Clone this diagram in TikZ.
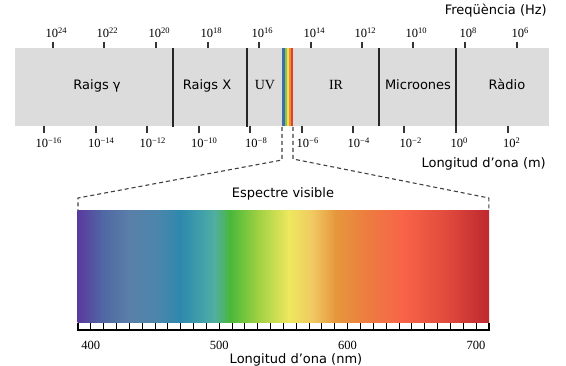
\documentclass[tikz,border=0pt]{standalone}
\usepackage{fontspec}
\setmainfont{Liberation Serif}
\newfontfamily\sansfont{DejaVu Sans}

\definecolor{bandgrey}{HTML}{DCDCDC}
\definecolor{rbblue}{HTML}{3D6FA5}
\definecolor{rbgreen}{HTML}{8CC050}
\definecolor{rbyellow}{HTML}{F0E050}
\definecolor{rborange}{HTML}{F09030}
\definecolor{rbred}{HTML}{E04030}
\definecolor{sp0}{HTML}{5A3A9E}
\definecolor{sp1}{HTML}{5068A4}
\definecolor{sp2}{HTML}{5A80A8}
\definecolor{sp3}{HTML}{4C86AB}
\definecolor{sp4}{HTML}{2F88AD}
\definecolor{sp5}{HTML}{42A2AA}
\definecolor{sp6}{HTML}{52AEA0}
\definecolor{sp7}{HTML}{48B83A}
\definecolor{sp8}{HTML}{9CD042}
\definecolor{sp9}{HTML}{EEE85E}
\definecolor{sp10}{HTML}{F0C862}
\definecolor{sp11}{HTML}{E6983C}
\definecolor{sp12}{HTML}{EC7E40}
\definecolor{sp13}{HTML}{F86448}
\definecolor{sp14}{HTML}{E04A3C}
\definecolor{sp15}{HTML}{BE2830}

\newcommand{\tenpow}[1]{10\raisebox{4.8pt}{\fontsize{8.5}{9}\selectfont #1}}

\tikzset{
	band/.style={font=\sansfont\fontsize{13}{15}\selectfont, anchor=base, inner sep=0pt},
	bandserif/.style={font=\fontsize{14}{16}\selectfont, anchor=base, inner sep=0pt},
	power/.style={font=\fontsize{12.5}{14}\selectfont, anchor=base, inner sep=0pt},
	caption/.style={font=\sansfont\fontsize{13}{15}\selectfont, inner sep=0pt},
	divider/.style={draw=black!85, line width=1.4pt},
	zoomline/.style={draw=black!75, line width=1.1pt, dash pattern=on 4pt off 3pt},
}

\begin{document}
\begin{tikzpicture}[x=1pt,y=-1pt]%[overlay]
		\useasboundingbox (0,0) rectangle (566,366);

		\coordinate (barnw) at (15,48);
		\coordinate (barse) at (549,126);
		\coordinate (specnw) at (78,211);
		\coordinate (specse) at (488.9,323);

		% the band
		\fill[bandgrey] (barnw) rectangle (barse);
		\foreach \xa/\xb/\c in {282/285/rbblue,285/287.2/rbgreen,287.2/289/rbyellow,289/291/rborange,291/293.3/rbred}
			\fill[\c] (\xa,48) rectangle (\xb,126);
		\draw[divider] (173,48) -- (173,127);
		\draw[divider] (247,48) -- (247,127);
		\draw[divider] (379,48) -- (379,126);
		\draw[divider] (456,48) -- (456,133);

		\node[band] (gamma) at (97,90) {Raigs γ};
		\node[band] (xray) at (207,90) {Raigs X};
		\node[bandserif] (uv) at (265,90) {UV};
		\node[bandserif] (ir) at (336,90) {IR};
		\node[band] (micro) at (418,90) {Microones};
		\node[band] (radio) at (507,90) {Ràdio};

		% frequency
		\foreach \x/\e in {53/24,104/22,156/20,208/18,259/16,311/14,362/12,413/10,465/8,517/6}{
			\draw[black!80, line width=1.1pt] (\x,42) -- (\x,48);
			\node[power] (f\e) at (\x+3,38) {\tenpow{\e}};
		}
		\node[caption, anchor=base east] (freq) at (547,15) {Freqüència (Hz)};

		% wavelength
		\foreach \x/\lx/\e [count=\i] in {44/48.5/−16,96/101/−14,147/152.5/−12,199/204/−10,250/256/−8,302/307.5/−6,353/358.5/−4,404/410.5/−2,456/459/0,508/511.5/2}{
			\draw[black!80, line width=1.1pt] (\x,126) -- (\x,133);
			\node[power] (w\i) at (\lx,148) {\tenpow{\e}};
		}
		\node[caption, anchor=base east] (wave) at (546,168) {Longitud d’ona (m)};

		% zoom
		\coordinate (zl1) at (282,127);
		\coordinate (zl2) at (282,160);
		\coordinate (zl3) at (78,198);
		\coordinate (zr1) at (293,127);
		\coordinate (zr2) at (293,159);
		\coordinate (zr3) at (488.9,198);
		\draw[zoomline] (zl1) -- (zl2) -- (zl3) -- (zl3 |- specnw);
		\draw[zoomline] (zr1) -- (zr2) -- (zr3) -- (zr3 |- specnw);

		\node[caption, anchor=base] (visible) at (283,198) {Espectre visible};

		% visible spectrum
		\foreach \xa/\ca/\xb/\cb in {78/sp0/103/sp1,103/sp1/130/sp2,130/sp2/157/sp3,157/sp3/180/sp4,180/sp4/203/sp5,203/sp5/215/sp6,215/sp6/230/sp7,230/sp7/257/sp8,257/sp8/289/sp9,289/sp9/313/sp10,313/sp10/335/sp11,335/sp11/365/sp12,365/sp12/403/sp13,403/sp13/447/sp14,447/sp14/488.9/sp15}
			\shade[left color=\ca, right color=\cb] (\xa-0.3,211) rectangle (\xb+0.3,323);

		\foreach \i in {1,...,31}
			\draw[line width=1pt] (78+\i*12.84,323) -- (78+\i*12.84,330);
		\draw[line width=1.2pt] (78,323) -- (78,330) -- (488.9,330) -- (488.9,323);

		\foreach \n/\x in {400/90.8,500/219.2,600/347.6,700/476}
			\node[power] (nm\n) at (\x,350) {\n};
		\node[caption, anchor=base] (wavenm) at (296,364) {Longitud d’ona (nm)};

		\end{tikzpicture}
\end{document}
